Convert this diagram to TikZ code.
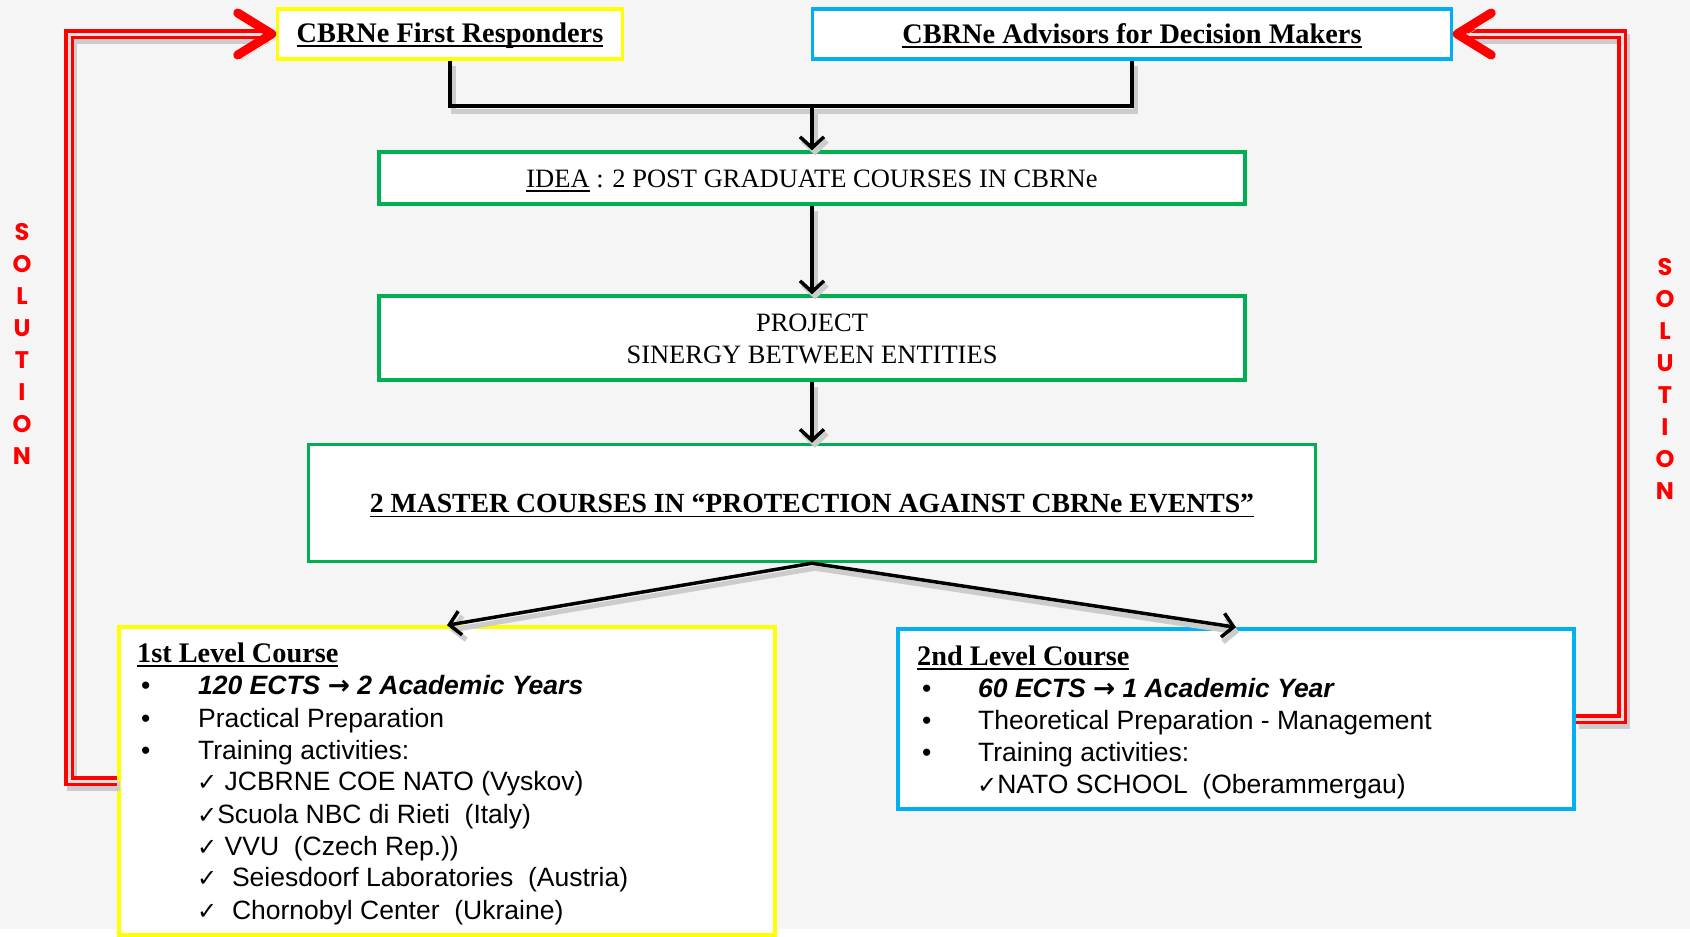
\documentclass[tikz,border=0pt]{standalone}
\usepackage{fontspec}
\setmainfont{Liberation Serif}
\setsansfont{Liberation Sans}
\newfontfamily\gothfont{Poppins}
\newfontfamily\symfont{DejaVu Sans}
\usetikzlibrary{arrows.meta}

\definecolor{boxyellow}{HTML}{FFFF00}
\definecolor{boxblue}{HTML}{00B0F0}
\definecolor{boxgreen}{HTML}{00B050}
\definecolor{bggray}{HTML}{F5F5F5}
\definecolor{solred}{HTML}{FF0000}

\newcommand{\undl}[1]{\leavevmode\setbox0=\hbox{#1}\rlap{\rule[-4.5pt]{\wd0}{1.8pt}}\box0\relax}
\newcommand{\chk}{{\symfont\fontsize{24}{24}\selectfont ✓}}
\newcommand{\tto}{{\symfont\bfseries →}}
\newcommand{\sinktext}[2]{\raisebox{-#1}[\height][\depth]{#2}}

\begin{document}
\begin{tikzpicture}
  [x=1pt,y=-1pt,
   box/.style={draw,line width=3.5pt,fill=white,inner sep=0pt},
   ttl/.style={font=\fontsize{28.3}{32}\selectfont\bfseries},
   plain/.style={font=\fontsize{26.5}{33}\selectfont,align=center},
   item/.style={anchor=base west,inner sep=0pt,font=\sffamily\fontsize{26.5}{32}\selectfont},
   head/.style={anchor=base west,inner sep=0pt,ttl},
   sol/.style={text=solred,align=center,font=\gothfont\bfseries\fontsize{24}{32}\selectfont},
   wire/.style={line width=3.5pt,
     preaction={draw=black!20,line width=5pt,transform canvas={shift={(3pt,-5pt)}}}},
   link/.style={wire,-{Straight Barb[length=11pt,width=24pt]}},
   redline/.style={draw=solred,line width=10pt,
     preaction={draw=black!20,line width=10pt,transform canvas={shift={(3pt,-5pt)}}},
     postaction={draw=black!12,line width=3pt}},
   redhead/.style={draw=solred,line width=9pt,line cap=round,line join=round,
     preaction={draw=black!20,transform canvas={shift={(3pt,-5pt)}}}}]

  \fill[bggray] (0,0) rectangle (1690,929);
  \fill[white] (0,929) rectangle (1690,937);
  \useasboundingbox (0,0) rectangle (1690,937);

  % boxes
  \node[box,ttl,draw=boxyellow,minimum width=345pt,minimum height=50pt] (fr) at (450,34) {\sinktext{1.5pt}{\undl{CBRNe First Responders}}};
  \node[box,ttl,draw=boxblue,minimum width=639pt,minimum height=50pt] (adv) at (1132,34) {\sinktext{1.5pt}{\undl{CBRNe Advisors for Decision Makers}}};
  \node[box,plain,draw=boxgreen,minimum width=866pt,minimum height=52pt] (idea) at (812,178) {\sinktext{3pt}{\undl{IDEA} : 2 POST GRADUATE COURSES IN CBRNe}};
  \node[box,plain,draw=boxgreen,minimum width=866pt,minimum height=84pt] (proj) at (812,338) {\sinktext{3pt}{\begin{tabular}{@{}c@{}}PROJECT\\[-1pt]SINERGY BETWEEN ENTITIES\end{tabular}}};
  \node[box,ttl,draw=boxgreen,minimum width=1007pt,minimum height=117pt,font=\fontsize{27.7}{32}\selectfont\bfseries] (mast) at (812,503) {\sinktext{3pt}{\undl{2 MASTER COURSES IN “PROTECTION AGAINST CBRNe EVENTS”}}};
  \node[box,draw=boxyellow,minimum width=656pt,minimum height=308pt] (lvl1) at (447,781) {};
  \node[box,draw=boxblue,minimum width=676pt,minimum height=180pt] (lvl2) at (1236,719) {};

  % first level
  \node[head] (t1) at (137,662) {\undl{1st Level Course}};
  \node[item] (b1a) at (141,694.5) {•};
  \node[item] (i1a) at (198,694.5) {\bfseries\itshape 120 ECTS \tto\ 2 Academic Years};
  \node[item] (b1b) at (141,727.5) {•};
  \node[item] (i1b) at (198,727.5) {Practical Preparation};
  \node[item] (b1c) at (141,759.5) {•};
  \node[item] (i1c) at (198,759.5) {Training activities:};
  \node[item] (c1a) at (197,790.5) {\chk\ JCBRNE COE NATO (Vyskov)};
  \node[item] (c1b) at (197,823.5) {\chk Scuola NBC di Rieti \ (Italy)};
  \node[item] (c1c) at (197,855.5) {\chk\ VVU \ (Czech Rep.))};
  \node[item] (c1d) at (197,886.5) {\chk\ \ Seiesdoorf Laboratories \ (Austria)};
  \node[item] (c1e) at (197,919.5) {\chk\ \ Chornobyl Center \ (Ukraine)};

  % second level
  \node[head] (t2) at (917,665) {\undl{2nd Level Course}};
  \node[item] (b2a) at (922,697.5) {•};
  \node[item] (i2a) at (978,697.5) {\bfseries\itshape 60 ECTS \tto\ 1 Academic Year};
  \node[item] (b2b) at (922,729.5) {•};
  \node[item] (i2b) at (978,729.5) {Theoretical Preparation - Management};
  \node[item] (b2c) at (922,761.5) {•};
  \node[item] (i2c) at (978,761.5) {Training activities:};
  \node[item] (c2a) at (977,793.5) {\chk NATO SCHOOL \ (Oberammergau)};

  % solution labels
  \node[sol] (solL) at (22,344) {S\\O\\L\\U\\T\\I\\O\\N};
  \node[sol] (solR) at (1665,379) {S\\O\\L\\U\\T\\I\\O\\N};

  % black connectors
  \coordinate (split) at (812,106);
  \draw[wire] (fr.south) |- (split) -| (adv.south);
  \draw[link] (split) -- (idea.north);
  \draw[link] (idea.south) -- (proj.north);
  \draw[link] (proj.south) -- (mast.north);
  \draw[link] (mast.south) -- (lvl1.north);
  \draw[link] (mast.south) -- (lvl2.north);

  % red loops
  \coordinate (cornL) at (69,34);
  \coordinate (cornR) at (1622,34);
  \draw[redline] (lvl1.west) -| (cornL) -- ([xshift=-10pt]fr.west);
  \draw[redline] (lvl2.east) -| (cornR) -- ([xshift=10pt]adv.east);
  \draw[redhead] ([shift={(-38,-21)}]fr.west) -- ([xshift=-4pt]fr.west) -- ([shift={(-38,21)}]fr.west);
  \draw[redhead] ([shift={(38,-21)}]adv.east) -- ([xshift=4pt]adv.east) -- ([shift={(38,21)}]adv.east);
\end{tikzpicture}
\end{document}
